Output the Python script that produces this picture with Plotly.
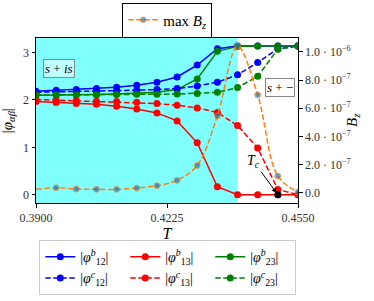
import plotly.graph_objects as go

T = [0.390, 0.395, 0.400, 0.405, 0.410, 0.415, 0.420, 0.425, 0.430, 0.435, 0.440, 0.445, 0.450, 0.455]

phi12_b = [2.183, 2.204, 2.219, 2.240, 2.267, 2.310, 2.373, 2.484, 2.737, 3.082, 3.137, 3.137, 3.137, 3.137]
phi13_b = [1.966, 1.945, 1.924, 1.909, 1.867, 1.811, 1.726, 1.558, 1.095, 0.168, 0.0, 0.0, 0.0, 0.0]
phi23_b = [2.099, 2.099, 2.105, 2.114, 2.126, 2.141, 2.162, 2.219, 2.442, 3.025, 3.130, 3.137, 3.137, 3.137]
phi12_c = [2.162, 2.168, 2.175, 2.180, 2.190, 2.205, 2.220, 2.240, 2.292, 2.375, 2.530, 2.790, 3.080, 3.137]
phi13_c = [2.008, 1.994, 1.987, 1.973, 1.966, 1.952, 1.924, 1.888, 1.832, 1.735, 1.462, 0.985, 0.110, 0.0]
phi23_c = [2.105, 2.105, 2.108, 2.110, 2.113, 2.118, 2.120, 2.125, 2.135, 2.160, 2.260, 2.500, 3.070, 3.137]

maxBz = [2.4e-8, 3.5e-8, 2.6e-8, 2.4e-8, 2.4e-8, 3.3e-8, 5.0e-8, 8.8e-8, 1.94e-7, 5.45e-7, 1.04e-6, 6.95e-7, 1.18e-7, 5e-9]
maxBz_marker = [0, 6, 6, 6, 6, 6, 6, 6, 6, 6, 6, 6, 6, 6]

Tc = 0.450
phase_boundary = 0.440

x_ticks = [0.3900, 0.4225, 0.4550]
x_ticklabels = ["0.3900", "0.4225", "0.4550"]
y_ticks = [0, 1, 2, 3]
y2_ticks = [0.0, 2e-7, 4e-7, 6e-7, 8e-7, 1e-6]
y2_ticklabels = ["0.0", "2.0 · 10<sup>−7</sup>", "4.0 · 10<sup>−7</sup>", "6.0 · 10<sup>−7</sup>",
                 "8.0 · 10<sup>−7</sup>", "1.0 · 10<sup>−6</sup>"]

FONT = "Liberation Serif"
DASH = "5.5px,2.5px"

fig = go.Figure()

series = [
    (phi12_b, "blue", "solid", "|<i>φ</i><sup><i>b</i></sup><sub>12</sub>|"),
    (phi13_b, "red", "solid", "|<i>φ</i><sup><i>b</i></sup><sub>13</sub>|"),
    (phi23_b, "green", "solid", "|<i>φ</i><sup><i>b</i></sup><sub>23</sub>|"),
    (phi12_c, "blue", DASH, "|<i>φ</i><sup><i>c</i></sup><sub>12</sub>|"),
    (phi13_c, "red", DASH, "|<i>φ</i><sup><i>c</i></sup><sub>13</sub>|"),
    (phi23_c, "green", DASH, "|<i>φ</i><sup><i>c</i></sup><sub>23</sub>|"),
]
for vals, col, dash, name in series:
    fig.add_trace(go.Scatter(
        x=T, y=vals, mode="lines+markers", name=name,
        line=dict(color=col, width=1.5, dash=dash),
        marker=dict(color=col, size=7),
        legend="legend",
    ))

fig.add_trace(go.Scatter(
    x=[Tc], y=[0], mode="markers", showlegend=False,
    marker=dict(color="black", size=7),
))

fig.add_trace(go.Scatter(
    x=T, y=maxBz, mode="lines+markers", name="max <i>B</i><sub><i>z</i></sub>",
    line=dict(color="#ff7f0e", width=1.5, dash=DASH, shape="spline", smoothing=1.0),
    marker=dict(color="#1f77b4", size=maxBz_marker),
    yaxis="y2", legend="legend2",
))

fig.add_shape(type="rect", xref="x", yref="paper", x0=T[0], x1=phase_boundary, y0=0, y1=1,
              fillcolor="#80ffff", line=dict(width=0), layer="below")

fig.add_annotation(x=0.0, y=0.815, xref="paper", yref="paper", text="<i>s</i> + <i>is</i>",
                   showarrow=False, xanchor="left", yanchor="middle", xshift=7,
                   font=dict(family=FONT, size=13, color="black"),
                   bgcolor="rgba(255,255,255,0.5)", bordercolor="#888888", borderwidth=1, borderpad=1)
fig.add_annotation(x=1.0, y=0.702, xref="paper", yref="paper", text="<i>s</i> + −",
                   showarrow=False, xanchor="right", yanchor="middle", xshift=-3,
                   font=dict(family=FONT, size=13, color="black"),
                   bgcolor="white", bordercolor="#888888", borderwidth=1, borderpad=1)
fig.add_annotation(x=Tc, y=0, xref="x", yref="y", text="<i>T</i><sub><i>c</i></sub>",
                   showarrow=True, ax=-24, ay=-33, arrowhead=2, arrowsize=1, arrowwidth=1,
                   arrowcolor="black", standoff=2, font=dict(family=FONT, size=14, color="black"))
fig.add_annotation(x=-0.108, y=0.5, xref="paper", yref="paper", text="|<i>φ</i><sub><i>αβ</i></sub>|",
                   showarrow=False, textangle=-90, xanchor="center", yanchor="middle",
                   font=dict(family=FONT, size=15, color="black"))
fig.add_annotation(x=1.208, y=0.5, xref="paper", yref="paper", text="<i>B</i><sub><i>z</i></sub>",
                   showarrow=False, textangle=-90, xanchor="center", yanchor="middle",
                   font=dict(family=FONT, size=15, color="black"))

axis_common = dict(showline=True, linecolor="black", linewidth=1, ticks="outside", ticklen=3.5,
                   tickcolor="black", showgrid=False, zeroline=False,
                   tickfont=dict(family=FONT, size=12, color="#333333"))

fig.update_layout(
    width=374, height=301,
    margin=dict(l=36, r=76, t=38, b=98, autoexpand=False),
    plot_bgcolor="white", paper_bgcolor="white",
    font=dict(family=FONT, color="black"),
    xaxis=dict(range=[0.39, 0.455], tickvals=x_ticks, ticktext=x_ticklabels, mirror=True,
               title=dict(text="<i>T</i>", font=dict(family=FONT, size=16), standoff=2), **axis_common),
    yaxis=dict(range=[-0.175, 3.307], tickvals=y_ticks, mirror=False, **axis_common),
    yaxis2=dict(range=[-7.3e-8, 1.099e-6], overlaying="y", side="right", tickvals=y2_ticks,
                ticktext=y2_ticklabels, **axis_common),
    legend=dict(orientation="h", x=0.503, xanchor="center", y=-0.225, yanchor="top",
                entrywidth=40, bordercolor="#cccccc", borderwidth=1, bgcolor="white",
                font=dict(family=FONT, size=14, color="black"), tracegroupgap=0),
    legend2=dict(x=0.501, xanchor="center", y=1.215, yanchor="top", bordercolor="black", borderwidth=1,
                 bgcolor="white", font=dict(family=FONT, size=15, color="black")),
)

fig.write_html("out.html", config={"displayModeBar": False},
               post_script="document.body.style.margin='0';")
